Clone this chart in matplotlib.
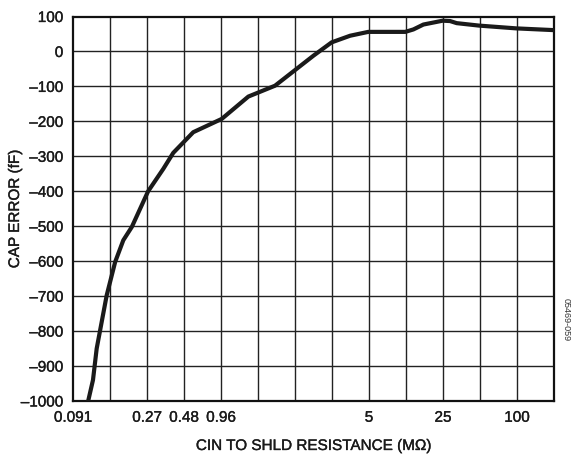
import matplotlib
matplotlib.use("Agg")
import matplotlib.pyplot as plt
import matplotlib.patheffects as pe

# categorical x positions (equal spacing), labels at selected gridlines
x_tick_pos = [0, 2, 3, 4, 8, 10, 12]
x_tick_labels = ["0.091", "0.27", "0.48", "0.96", "5", "25", "100"]
y_ticks = [100, 0, -100, -200, -300, -400, -500, -600, -700, -800, -900, -1000]
y_tick_labels = ["100", "0", "–100", "–200", "–300", "–400", "–500", "–600", "–700", "–800", "–900", "–1000"]

# curve (position index, cap error fF)
curve_x = [0.41, 0.54, 0.64, 0.91, 1.14, 1.36, 1.59, 2.03, 2.44, 2.71, 3.25, 4.02, 4.74,
           5.46, 5.98, 6.5, 6.99, 7.49, 7.98, 8.98, 9.2, 9.47, 9.99, 10.19, 10.37, 10.97, 11.98, 13.0]
curve_y = [-1000, -940, -850, -698, -602, -540, -502, -400, -336, -290, -231, -193, -129,
           -98, -55, -12, 26, 45, 56, 56, 63, 77, 88, 87, 81, 74, 66, 61]

plt.rcParams['font.family'] = ['Liberation Sans', 'DejaVu Sans']

fig = plt.figure(figsize=(5.72, 4.56), dpi=100)
ax = fig.add_axes([73/572, 1 - 402/456, (554-73)/572, (402-17.5)/456])

ax.set_xlim(0, 13)
ax.set_ylim(-1000, 100)
for i in range(1, 13):
    ax.axvline(i, color='#222222', lw=1.0, zorder=1)
for v in range(-900, 100, 100):
    ax.axhline(v, color='#222222', lw=1.0, zorder=1)

ax.plot(curve_x, curve_y, color='#1a1a1a', lw=3.0, solid_joinstyle='round', zorder=3, clip_on=True)

fs = 11
thick = [pe.withStroke(linewidth=0.25, foreground='#1a1a1a')]
ax.set_xticks(x_tick_pos)
ax.set_xticklabels(x_tick_labels, fontsize=fs, color='#1a1a1a')
ax.set_yticks(y_ticks)
ax.set_yticklabels(y_tick_labels, fontsize=fs, color='#1a1a1a')
for t in ax.get_xticklabels() + ax.get_yticklabels():
    t.set_path_effects(thick)
ax.tick_params(axis='x', length=0, pad=7)
ax.tick_params(axis='y', length=0, pad=7)
for s in ax.spines.values():
    s.set_linewidth(1.6)
    s.set_color('#111111')

fig.text((73 + 554) / 2 / 572, 1 - 447/456, "CIN TO SHLD RESISTANCE (MΩ)", fontsize=fs,
         color='#1a1a1a', ha='center', va='center', path_effects=thick)
fig.text(15/572, 1 - 210/456, "CAP ERROR (fF)", fontsize=fs, color='#1a1a1a',
         rotation=90, ha='center', va='center', path_effects=thick)
fig.text(566/572, 1 - 320/456, "05469-059", rotation=270, fontsize=6.5, color='#333333',
         ha='center', va='center')

fig.savefig("out.png", dpi=100)
